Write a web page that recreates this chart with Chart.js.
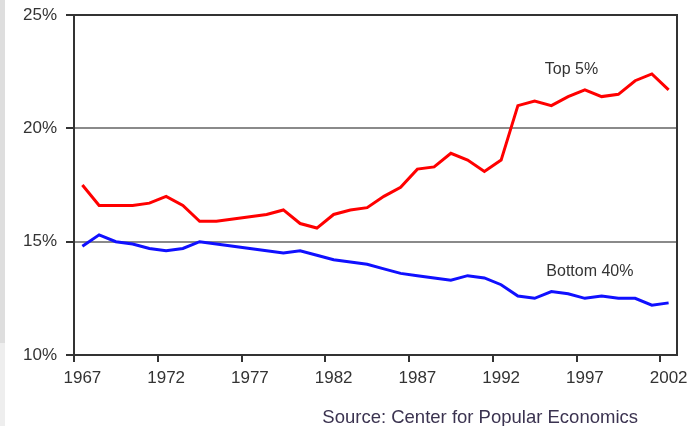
<!DOCTYPE html>
<html>
<head>
<meta charset="utf-8">
<script src="https://cdn.jsdelivr.net/npm/chart.js@4/dist/chart.umd.min.js"></script>
<style>
html,body{margin:0;padding:0;background:#fff;}
#wrap{position:relative;width:697px;height:426px;}
#strip{position:absolute;left:0;top:0;width:5px;height:343px;background:#dedede;}
#strip2{position:absolute;left:0;top:343px;width:5px;height:83px;background:#eeeeee;}
canvas{position:absolute;left:0;top:0;}
</style>
</head>
<body>
<div id="wrap"><div id="strip"></div><div id="strip2"></div><canvas id="c" width="697" height="426"></canvas></div>
<script>
/* ========== 数据 ========= */
const years = [];
for (let y = 1967; y <= 2002; y++) years.push(String(y));
const top5 = [17.5,16.6,16.6,16.6,16.7,17.0,16.6,15.9,15.9,16.0,16.1,16.2,16.4,15.8,15.6,16.2,16.4,16.5,17.0,17.4,18.2,18.3,18.9,18.6,18.1,18.6,21.0,21.2,21.0,21.4,21.7,21.4,21.5,22.1,22.4,21.7];
const bottom40 = [14.8,15.3,15.0,14.9,14.7,14.6,14.7,15.0,14.9,14.8,14.7,14.6,14.5,14.6,14.4,14.2,14.1,14.0,13.8,13.6,13.5,13.4,13.3,13.5,13.4,13.1,12.6,12.5,12.8,12.7,12.5,12.6,12.5,12.5,12.2,12.3];
const yTicks = [10,15,20,25];
const notes = [
    {text:"Top 5%", idx:29.2, val:22.6},
    {text:"Bottom 40%", idx:30.3, val:13.7}
];
const sourceText = "Source: Center for Popular Economics";

/* ========== 样式 ========= */
const FONT = "'Liberation Sans', Arial, sans-serif";
const DARK = "#333";
const GRID = "#8a8a8a";

/* ========== 插件：边框 + 文字 ========= */
const framePlugin = {
    id: "frame",
    afterDatasetsDraw(chart) {
        const {ctx, chartArea:a} = chart;
        ctx.save();
        ctx.strokeStyle = DARK; ctx.lineWidth = 2;
        ctx.strokeRect(a.left, a.top, a.right - a.left, a.bottom - a.top);
        ctx.restore();
    },
    afterDraw(chart) {
        const {ctx} = chart;
        const xs = chart.scales.x, ys = chart.scales.y;
        ctx.save();
        ctx.fillStyle = "#333";
        ctx.font = "16px " + FONT;
        ctx.textAlign = "center"; ctx.textBaseline = "middle";
        notes.forEach(n => ctx.fillText(n.text, xs.getPixelForValue(n.idx), ys.getPixelForValue(n.val)));
        ctx.fillStyle = "#3b3350";
        ctx.font = "18.5px " + FONT;
        ctx.textAlign = "right";
        ctx.fillText(sourceText, chart.width - 59, chart.height - 8);
        ctx.restore();
    }
};

/* ========== 图表 ========= */
new Chart(document.getElementById("c"), {
    type: "line",
    data: {
        labels: years,
        datasets: [
            {label:"Top 5%", data:top5, borderColor:"#ff0000", borderWidth:3, pointRadius:0, tension:0},
            {label:"Bottom 40%", data:bottom40, borderColor:"#1010ff", borderWidth:3, pointRadius:0, tension:0}
        ]
    },
    options: {
        responsive: false,
        animation: false,
        layout: {padding:{top:15, right:20, left:0, bottom:0}},
        plugins: {legend:{display:false}, tooltip:{enabled:false}},
        scales: {
            x: {
                offset: true,
                afterFit: s => { s.height = 71; },
                grid: {
                    offset: true, drawOnChartArea: false, tickLength: 7, lineWidth: 2,
                    color: c => (c.index % 5 === 0 ? DARK : "rgba(0,0,0,0)")
                },
                border: {color: DARK, width: 2},
                ticks: {
                    autoSkip: false, maxRotation: 0, padding: 6,
                    color: "#333", font: {family: FONT, size: 17},
                    callback: (v, i) => ((i % 5 === 0) ? years[i] : "")
                }
            },
            y: {
                min: 10, max: 25,
                afterFit: s => { s.width = 74; s.paddingTop = 0; s.paddingBottom = 0; },
                afterBuildTicks: s => { s.ticks = yTicks.map(v => ({value: v})); },
                grid: {
                    tickLength: 8, lineWidth: 2,
                    color: c => (c.tick && (c.tick.value === 15 || c.tick.value === 20) ? GRID : "rgba(0,0,0,0)"),
                    tickColor: DARK
                },
                border: {color: DARK, width: 2},
                ticks: {
                    padding: 9, color: "#333", font: {family: FONT, size: 17},
                    callback: v => v + "%"
                }
            }
        }
    },
    plugins: [framePlugin]
});
</script>
</body>
</html>
